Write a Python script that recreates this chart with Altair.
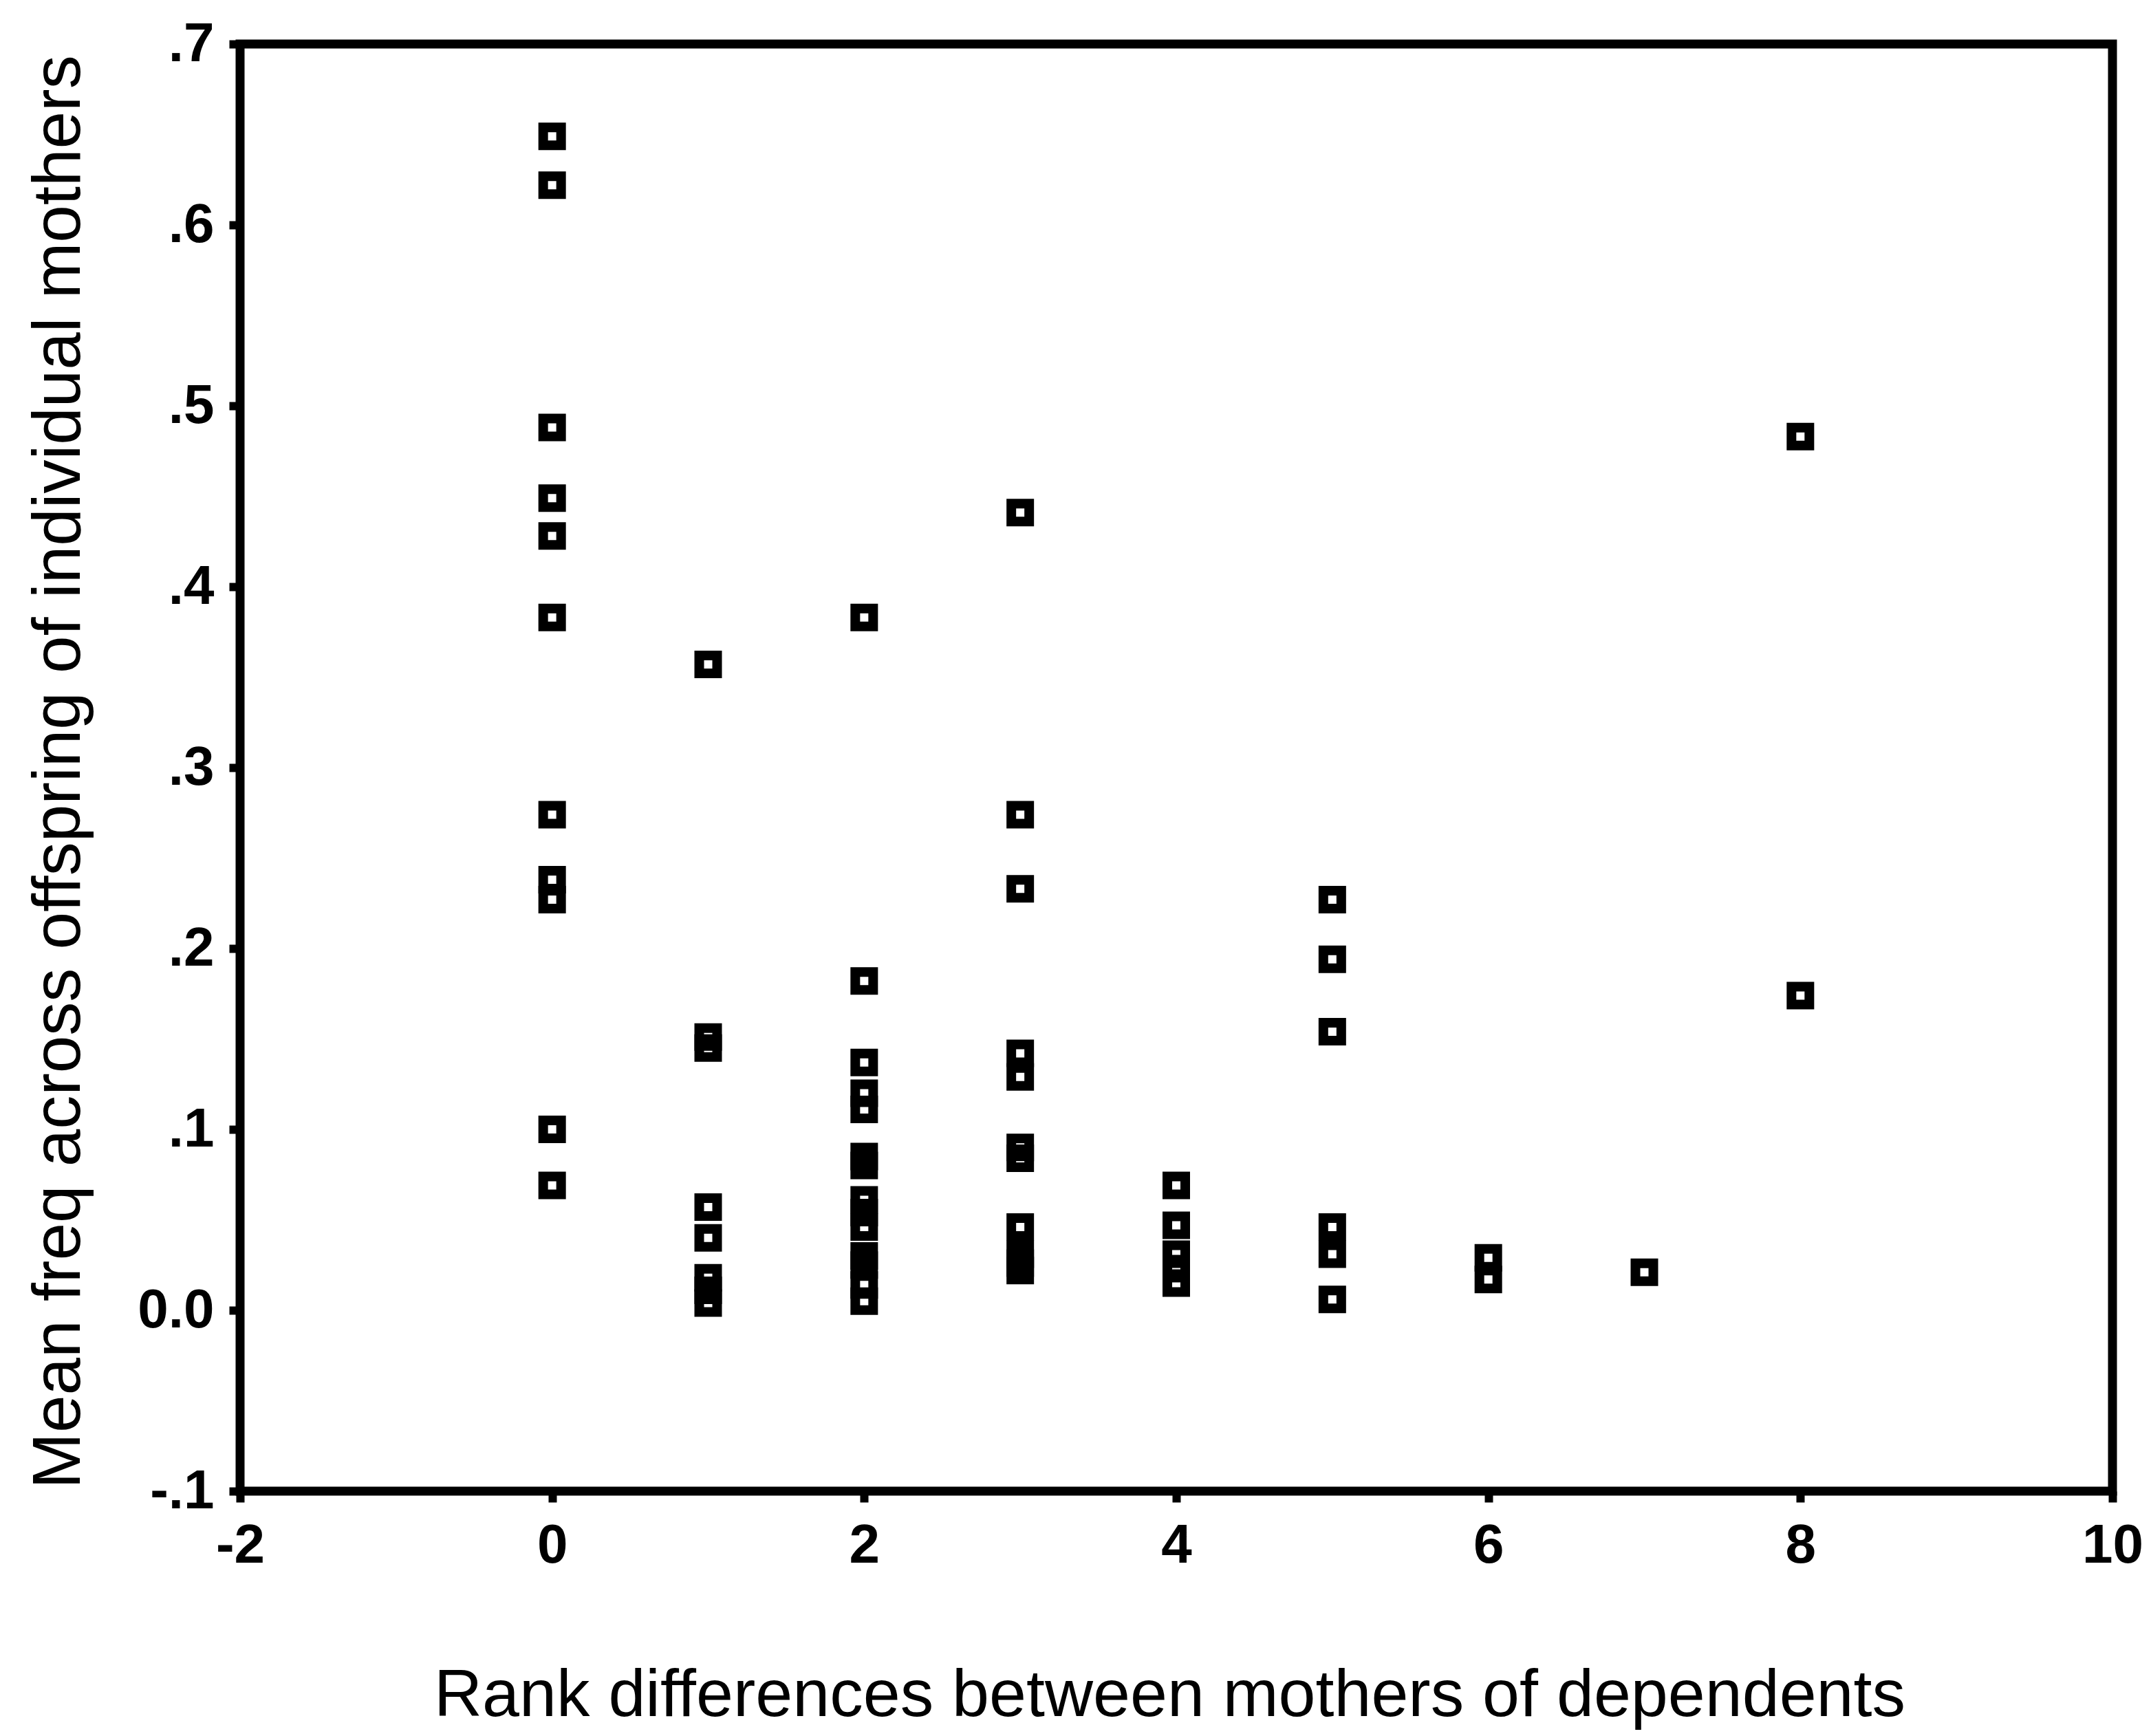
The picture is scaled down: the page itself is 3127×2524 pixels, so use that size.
import altair as alt
import pandas as pd

# Rank difference groups and the mean frequency values
rank_diff = [0, 1, 2, 3, 4, 5, 6, 7, 8]
freq_0 = [0.649, 0.622, 0.488, 0.449, 0.428, 0.383, 0.274, 0.238, 0.227, 0.100, 0.069]
freq_1 = [0.357, 0.151, 0.145, 0.057, 0.040, 0.018, 0.011, 0.004]
freq_2 = [0.383, 0.182, 0.137, 0.120, 0.111, 0.085, 0.080, 0.061, 0.054, 0.046,
          0.030, 0.025, 0.014, 0.005]
freq_3 = [0.441, 0.274, 0.233, 0.142, 0.129, 0.090, 0.084, 0.046, 0.031, 0.026, 0.022]
freq_4 = [0.069, 0.047, 0.031, 0.023, 0.015]
freq_5 = [0.227, 0.194, 0.154, 0.046, 0.031, 0.006]
freq_6 = [0.029, 0.017]
freq_7 = [0.021]
freq_8 = [0.483, 0.174]

x_ticks = [-2, 0, 2, 4, 6, 8, 10]
y_ticks = [-0.1, 0.0, 0.1, 0.2, 0.3, 0.4, 0.5, 0.6, 0.7]

groups = [freq_0, freq_1, freq_2, freq_3, freq_4, freq_5, freq_6, freq_7, freq_8]
rows = []
for r, vals in zip(rank_diff, groups):
    for v in vals:
        rows.append({"rank": r, "freq": v})
df = pd.DataFrame(rows)

FONT = "Liberation Sans"
W, H = 2722, 2104

chart = (
    alt.Chart(df)
    .mark_point(shape="square", filled=False, size=676, strokeWidth=14,
                color="black", opacity=1)
    .encode(
        x=alt.X(
            "rank:Q",
            scale=alt.Scale(domain=[-2, 10], nice=False, zero=False),
            axis=alt.Axis(
                values=x_ticks,
                labelExpr="toString(datum.value)",
                title="Rank differences between mothers of dependents",
                titleFont=FONT,
                titleFontSize=97,
                titleFontWeight="normal",
                titleColor="black",
                titleX=1351,
                titleY=326,
                titleBaseline="alphabetic",
                labelFont=FONT,
                labelFontSize=80,
                labelFontWeight="bold",
                labelColor="black",
                labelPadding=24,
                tickSize=16,
                tickWidth=12,
                tickColor="black",
                domain=False,
                grid=False,
                labelFlush=False,
            ),
        ),
        y=alt.Y(
            "freq:Q",
            scale=alt.Scale(domain=[-0.1, 0.7], nice=False, zero=False),
            axis=alt.Axis(
                values=y_ticks,
                labelExpr="abs(datum.value) < 1e-9 ? '0.0' : (datum.value < 0 ? '-' : '') + '.' + format(round(abs(datum.value) * 10), 'd')",
                title="Mean freq across offspring of individual mothers",
                titleFont=FONT,
                titleFontSize=98,
                titleFontWeight="normal",
                titleColor="black",
                titleX=-234,
                titleY=H / 2 + 6,
                titleBaseline="alphabetic",
                titleAngle=270,
                labelFont=FONT,
                labelFontSize=80,
                labelFontWeight="bold",
                labelColor="black",
                labelPadding=22,
                tickSize=16,
                tickWidth=12,
                tickColor="black",
                domain=False,
                grid=False,
                labelFlush=False,
            ),
        ),
    )
    .properties(
        width=W,
        height=H,
        autosize=alt.AutoSizeParams(type="none"),
        padding={"left": 349, "top": 64, "right": 56, "bottom": 356},
        background="white",
    )
    .configure_view(stroke="black", strokeWidth=13)
)

chart.save("out.html", embed_options={"renderer": "svg", "actions": False})
